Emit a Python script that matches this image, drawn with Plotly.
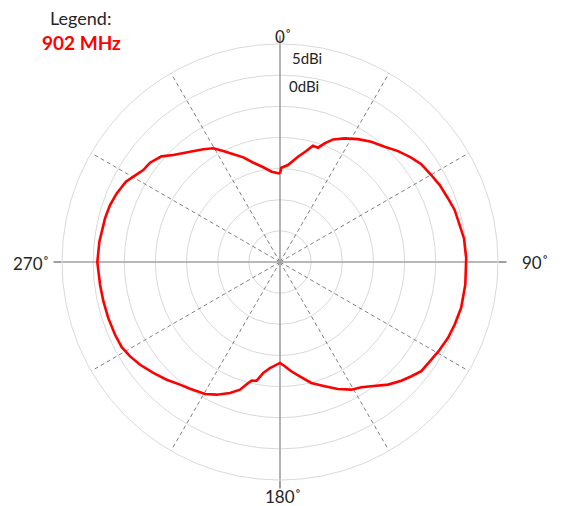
import plotly.graph_objects as go

# Measured gain pattern at 902 MHz (degrees clockwise from 0, gain in dBi)
angles_deg = [
    0, 0.8, 4.7, 9.7, 13.3, 15.8, 18.4, 20.6, 23.4, 27.6, 32.4, 37.2, 42.2,
    46.8, 51.5, 55.3, 60.1, 64.3, 69.2, 73.4, 78.4, 82.7, 88.9, 97.0, 104.2,
    109.7, 114.3, 118.8, 122.8, 127.7, 131.0, 134.4, 138.6, 143.7, 147.0,
    150.8, 155.5, 160.2, 165.5, 170.2, 174.1, 177.4, 180.0, 185.4, 188.6,
    191.1, 193.4, 194.7, 197.4, 200.9, 205.5, 209.6, 215.4, 219.2, 223.9,
    228.8, 233.7, 237.8, 241.7, 246.2, 251.9, 257.5, 262.8, 270.0, 276.4,
    284.0, 288.5, 292.8, 297.5, 300.2, 303.9, 307.4, 311.7, 315.1, 320.8,
    325.8, 329.6, 332.9, 336.6, 340.7, 345.0, 350.0, 354.7, 358.9, 360.0,
]
gain_dbi = [
    -15.8, -14.86, -14.38, -12.86, -11.69, -10.6, -10.66, -9.65, -8.56, -7.6,
    -6.63, -5.76, -5.0, -4.0, -3.08, -2.42, -1.99, -1.54, -1.16, -0.74, -0.55,
    -0.22, -0.1, -0.03, 0.0, -0.21, -0.4, -0.75, -1.09, -1.33, -2.05, -2.76,
    -3.76, -5.25, -6.02, -6.52, -7.6, -8.8, -9.94, -11.38, -12.36, -13.24,
    -13.8, -12.9, -12.0, -10.58, -10.42, -9.92, -8.52, -7.5, -6.4, -5.63,
    -5.05, -4.6, -3.77, -2.97, -2.13, -1.56, -1.14, -1.06, -1.0, -0.95, -0.88,
    -0.67, -0.82, -1.04, -1.22, -1.56, -2.1, -2.76, -3.55, -3.74, -4.5, -5.75,
    -7.14, -8.12, -8.84, -10.0, -11.16, -12.2, -13.5, -14.56, -15.44, -15.76,
    -15.8,
]

r_min, r_max = -30, 5
ring_values = [-25, -20, -15, -10, -5, 0, 5]
cardinal_angles = [0, 90, 180, 270]
cardinal_labels = ["0˚", "90˚", "180˚", "270˚"]
diagonal_angles = [30, 60, 120, 150, 210, 240, 300, 330]
series_name = "902 MHz"

fig = go.Figure()

# Dashed spokes every 30 degrees
for a in diagonal_angles:
    fig.add_trace(go.Scatterpolar(
        r=[r_min, r_max], theta=[a, a], mode="lines",
        line=dict(color="#808080", width=1, dash="4px,3px"),
        hoverinfo="skip", showlegend=False))

# Solid cross-hair axes
for a in (0, 90):
    fig.add_trace(go.Scatterpolar(
        r=[r_max, r_min, r_max], theta=[a, a, a + 180], mode="lines",
        line=dict(color="#a0a0a0", width=1.6),
        hoverinfo="skip", showlegend=False))

fig.add_trace(go.Scatterpolar(
    r=gain_dbi, theta=angles_deg, mode="lines", name=series_name,
    line=dict(color="#ff0000", width=2.6), showlegend=False))

W, H = 562, 506
cx, cy, R = 280, 262, 218

def px(x, y, text, xa="center", size=17, color="#262626"):
    return dict(text=text, x=x / W, y=1 - y / H, xref="paper", yref="paper",
                xanchor=xa, yanchor="middle", showarrow=False,
                font=dict(size=size, color=color))

# Cardinal direction labels around the outer ring
label_pos = {0: (283, 36, "center"), 90: (520, 262, "left"),
             180: (283, 496, "center"), 270: (51, 263, "right")}
angle_annotations = [px(label_pos[a][0], label_pos[a][1], t, label_pos[a][2])
                     for a, t in zip(cardinal_angles, cardinal_labels)]

fig.update_layout(
    width=W, height=H,
    margin=dict(l=0, r=0, t=0, b=0),
    paper_bgcolor="white",
    font=dict(family="Lato, 'Open Sans', sans-serif", color="#262626", size=15),
    polar=dict(
        domain=dict(x=[(cx - R) / W, (cx + R) / W],
                    y=[1 - (cy + R) / H, 1 - (cy - R) / H]),
        bgcolor="white",
        radialaxis=dict(
            range=[r_min, r_max], tickvals=ring_values,
            showticklabels=False, ticks="", showline=False,
            gridcolor="#d9d9d9", gridwidth=1),
        angularaxis=dict(
            rotation=90, direction="clockwise",
            tickvals=cardinal_angles, showticklabels=False,
            ticks="outside", ticklen=8, tickcolor="#a0a0a0", tickwidth=1.6,
            showgrid=False, showline=True, linecolor="#d9d9d9", linewidth=1),
    ),
    annotations=angle_annotations + [
        px(290, 58, "5dBi", xa="left", size=15),
        px(287, 86, "0dBi", xa="left", size=15),
        px(80, 18, "Legend:", size=18),
        px(81, 43, "<b>" + series_name + "</b>", size=19, color="#ff0000"),
    ],
)

fig.write_html("out.html")
